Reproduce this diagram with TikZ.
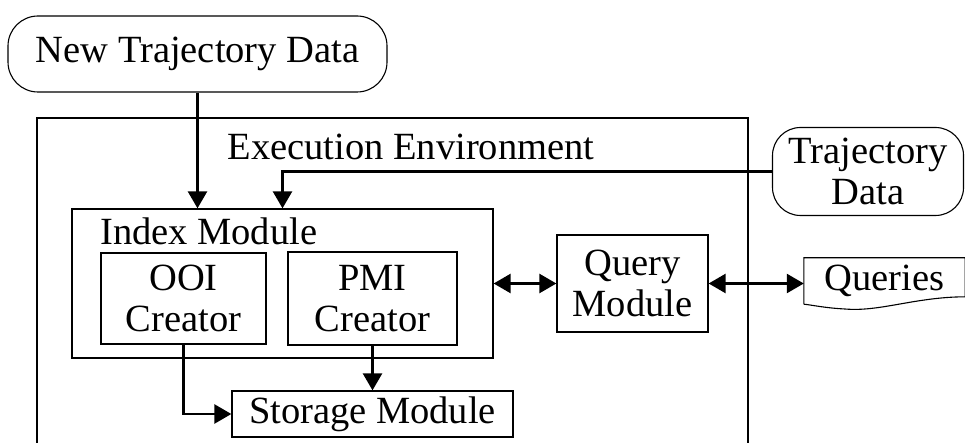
\documentclass[tikz,border=0pt]{standalone}
\usepackage{fontspec}
\setmainfont{Liberation Serif}
\usetikzlibrary{arrows.meta,calc}
\begin{document}
\begin{tikzpicture}[x=1pt,y=-1pt,
  every node/.style={font=\fontsize{38.5}{41}\selectfont, inner sep=0pt, align=center},
  box/.style={draw, line width=1.3pt, rectangle},
  rbox/.style={draw, line width=1.1pt, rectangle, rounded corners=30pt},
  tip/.tip={Triangle[length=17pt,width=19pt]},
  arr/.style={line width=2.6pt, -tip},
  darr/.style={line width=2.6pt, tip-tip}]
\useasboundingbox (0,0) rectangle (965,443);
% outer environment box (bottom runs past the picture edge)
\node[box, minimum width=711pt, minimum height=360pt] (env) at (392.5,298) {};
\node[anchor=base] (envlabel) at (411,160) {Execution Environment};
\node[rbox, minimum width=379pt, minimum height=76pt] (ntd) at (197.5,54) {New Trajectory Data};
\node[rbox, rounded corners=28pt, minimum width=191pt, minimum height=88pt] (td) at (868,171.5) {Trajectory\\Data};
\node[box, minimum width=421pt, minimum height=149pt] (index) at (282.5,283.5) {};
\node[anchor=base west] (indexlabel) at (100,245) {Index Module};
\node[box, minimum width=165pt, minimum height=91pt] (ooi) at (183.5,298.5) {OOI\\Creator};
\node[box, minimum width=169pt, minimum height=93pt] (pmi) at (372.5,298.5) {PMI\\Creator};
\node[box, minimum width=151pt, minimum height=97pt] (query) at (632.5,283.5) {Query\\Module};
\node[box, minimum width=281pt, minimum height=46pt] (storage) at (372.5,414) {Storage Module};
\node[minimum width=161pt, minimum height=46pt] (queries) at (884.5,281) {Queries};
\draw[line width=1.1pt] (queries.south west) -- (queries.north west) -- (queries.north east) -- ++(0,39)
  .. controls (915,297) and (880,312) .. (845,309) .. controls (825,308) and (812,305) .. (queries.south west);
% connectors
\draw[arr] (ntd.south) -- (ntd.south |- index.north);
\draw[arr] (td.west) -| (index.north);
\draw[darr] (index.east) -- (query.west);
\draw[darr] (query.east) -- (query.east -| queries.west);
\draw[arr] (ooi.south) |- (storage.west);
\draw[arr] (pmi.south) -- (storage.north);
\end{tikzpicture}
\end{document}
